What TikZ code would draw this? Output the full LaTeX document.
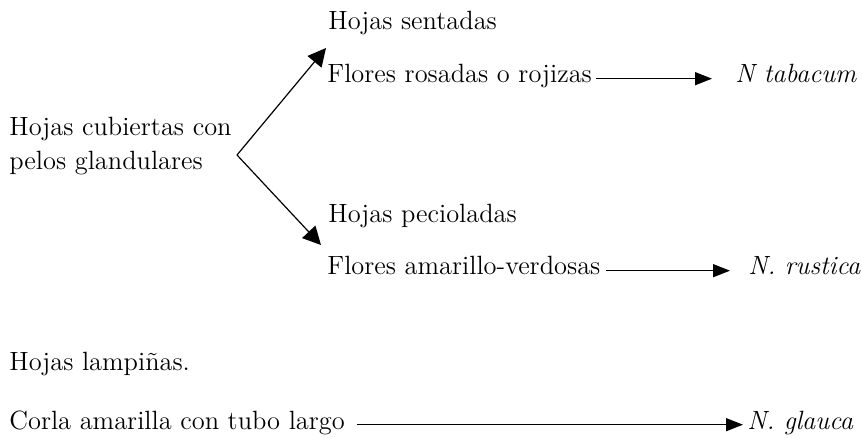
\documentclass[tikz,border=0pt]{standalone}
\usepackage{tikz}
\usetikzlibrary{arrows.meta}
\tikzset{
	texto/.style={anchor=base west, inner sep=0pt, font=\fontsize{13.2}{17}\selectfont},
	especie/.style={texto, font=\fontsize{13.2}{17}\selectfont\itshape},
	rama/.style={line width=0.6pt, -{Triangle[length=9pt,width=9pt]}},
	flecha/.style={line width=0.7pt, -{Triangle[length=8.5pt,width=6.5pt]}}
}

\begin{document}
\begin{tikzpicture}[x=0.5pt, y=-0.5pt]
		%%%%% START %%%%%
		\useasboundingbox (0, 0) rectangle (862, 438);
		
		\node[texto] (cubiertas) at (9, 136) {Hojas cubiertas con};
		\node[texto] (glandulares) at (9, 170) {pelos glandulares};
		\coordinate (vertice) at (237, 155);
		\coordinate (puntaA) at (326, 48);
		\coordinate (puntaB) at (321, 245);
		
		\node[texto] (sentadas) at (328, 30) {Hojas sentadas};
		\node[texto] (rosadas) at (327, 83) {Flores rosadas o rojizas};
		\node[especie] (tabacum) at (735, 83) {N tabacum};
		
		\node[texto] (pecioladas) at (328, 223) {Hojas pecioladas};
		\node[texto] (verdosas) at (327, 275) {Flores amarillo-verdosas};
		\node[especie] (rustica) at (748, 275) {N. rustica};
		
		\node[texto] (lampinas) at (9, 371) {Hojas lampiñas.};
		\node[texto] (corla) at (9, 429) {Corla amarilla con tubo largo};
		\node[especie] (glauca) at (747, 429) {N. glauca};
		
		\draw[rama] (vertice) -- (puntaA);
		\draw[rama] (vertice) -- (puntaB);
		
		\draw[flecha, shorten <=2pt, shorten >=11.5pt] (rosadas.mid east) -- (tabacum.mid west);
		\draw[flecha, shorten <=2.5pt, shorten >=9pt] (verdosas.mid east) -- (rustica.mid west);
		\draw[flecha, shorten <=6pt, shorten >=2pt] (corla.mid east) -- (glauca.mid west);
		%%%%% END %%%%%
	\end{tikzpicture}
\end{document}
